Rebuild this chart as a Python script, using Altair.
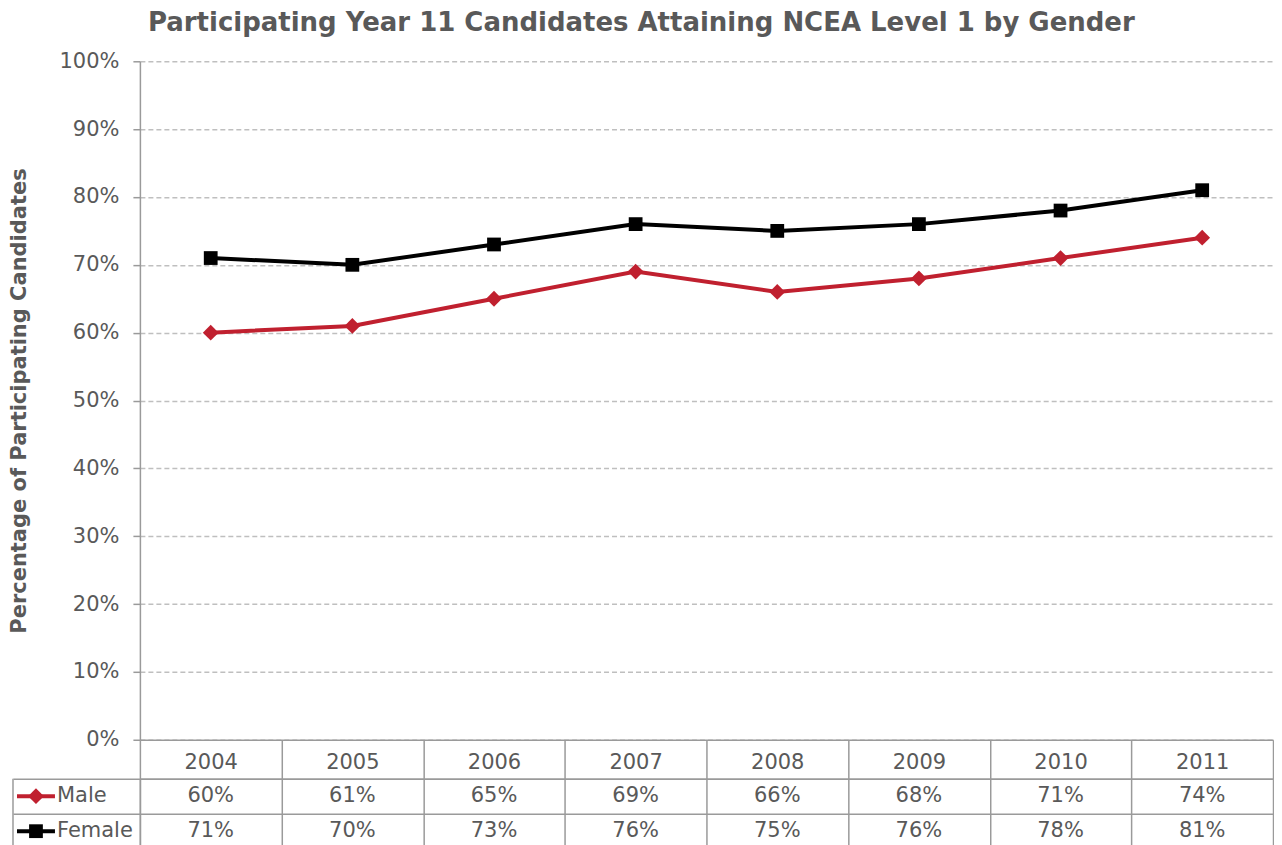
import altair as alt
import pandas as pd

years = ["2004", "2005", "2006", "2007", "2008", "2009", "2010", "2011"]
male = [60, 61, 65, 69, 66, 68, 71, 74]
female = [71, 70, 73, 76, 75, 76, 78, 81]
series = ["Male", "Female"]
colors = ["#C0202F", "#000000"]
shapes = ["diamond", "square"]
marker_sizes = [250, 190]
y_ticks = [0, 10, 20, 30, 40, 50, 60, 70, 80, 90, 100]

rows = []
for yr, m, f in zip(years, male, female):
    rows.append({"year": yr, "series": "Male", "value": m})
    rows.append({"year": yr, "series": "Female", "value": f})
df = pd.DataFrame(rows)
df["label"] = df["value"].astype(str) + "%"
sdf = pd.DataFrame({"series": series})
one = pd.DataFrame({"k": [0]})

FONT = "DejaVu Sans"
TXT = "#595959"
LINE = "#9a9a9a"
GRID = "#BFBFBF"
W = 1134
H = 679
ROW = 35
HEAD = 39

color_scale = alt.Scale(domain=series, range=colors)
shape_scale = alt.Scale(domain=series, range=shapes)
size_scale = alt.Scale(domain=series, range=marker_sizes)

x_top = alt.X(
    "year:O",
    scale=alt.Scale(type="point", padding=0.5),
    axis=alt.Axis(labels=False, ticks=False, title=None, grid=False,
                  domainColor=LINE, domainWidth=1.5),
)
y_top = alt.Y(
    "value:Q",
    scale=alt.Scale(domain=[0, 100], nice=False),
    axis=alt.Axis(
        values=y_ticks, labelExpr="datum.value + '%'",
        title="Percentage of Participating Candidates",
        titleFont=FONT, titleFontSize=21, titleFontWeight="bold", titleColor=TXT,
        titlePadding=29,
        labelFont=FONT, labelFontSize=21, labelColor=TXT, labelPadding=14,
        tickSize=7, tickColor=LINE, tickWidth=1.5,
        domainColor=LINE, domainWidth=1.5,
        grid=True, gridColor=GRID, gridDash=[5, 3], gridWidth=1.5,
    ),
)

lines = alt.Chart(df).mark_line(strokeWidth=4).encode(
    x=x_top, y=y_top,
    color=alt.Color("series:N", scale=color_scale, legend=None),
)
points = alt.Chart(df).mark_point(filled=True, opacity=1).encode(
    x=x_top, y=y_top,
    color=alt.Color("series:N", scale=color_scale, legend=None),
    shape=alt.Shape("series:N", scale=shape_scale, legend=None),
    size=alt.Size("series:N", scale=size_scale, legend=None),
)
top = alt.layer(lines, points).properties(width=W, height=H)

tx = alt.X(
    "year:O",
    scale=alt.Scale(type="band", paddingInner=0, paddingOuter=0),
    axis=alt.Axis(
        orient="top", title=None, labelAngle=0,
        tickBand="extent", tickSize=HEAD, tickColor=LINE, tickWidth=1.5,
        labelPadding=-33, labelFont=FONT, labelFontSize=21, labelColor=TXT,
        domainColor=LINE, domainWidth=1.5,
        grid=True, gridColor=LINE, gridWidth=1.5,
    ),
)
ty = alt.Y(
    "series:N",
    scale=alt.Scale(domain=series, paddingInner=0, paddingOuter=0),
    axis=alt.Axis(
        title=None, labels=False,
        tickBand="extent", tickSize=127, tickColor=LINE, tickWidth=1.5,
        domainColor=LINE, domainWidth=1.5,
        grid=True, gridColor=LINE, gridWidth=1.5,
    ),
)

cells = alt.Chart(df).mark_text(fontSize=21, font=FONT, color=TXT).encode(
    x=tx, y=ty, text="label:N"
)
border = alt.Chart(one).mark_rule(color=LINE, strokeWidth=1.5).encode(
    x=alt.value(-127), y=alt.value(0), y2=alt.value(2 * ROW)
)
leg_line = alt.Chart(sdf).mark_rule(strokeWidth=4).encode(
    x=alt.value(-123), x2=alt.value(-85), y=ty,
    color=alt.Color("series:N", scale=color_scale, legend=None),
)
leg_pt = alt.Chart(sdf).mark_point(filled=True, opacity=1).encode(
    x=alt.value(-104), y=ty,
    color=alt.Color("series:N", scale=color_scale, legend=None),
    shape=alt.Shape("series:N", scale=shape_scale, legend=None),
    size=alt.Size("series:N", scale=size_scale, legend=None),
)
leg_txt = alt.Chart(sdf).mark_text(align="left", fontSize=21, font=FONT, color=TXT).encode(
    x=alt.value(-83), y=ty, text="series:N"
)
table = alt.layer(cells, border, leg_line, leg_pt, leg_txt).properties(width=W, height=2 * ROW)

chart = alt.vconcat(top, table, spacing=HEAD, bounds="flush").resolve_scale(x="independent").properties(
    title=alt.TitleParams(
        text="Participating Year 11 Candidates Attaining NCEA Level 1 by Gender",
        font=FONT, fontSize=26, fontWeight="bold", color=TXT, anchor="middle", offset=14,
    ),
    padding={"left": 0, "top": 2, "right": 0, "bottom": 0},
).configure_view(stroke=None)

chart.save("out.html", embed_options={"renderer": "svg", "actions": False})
